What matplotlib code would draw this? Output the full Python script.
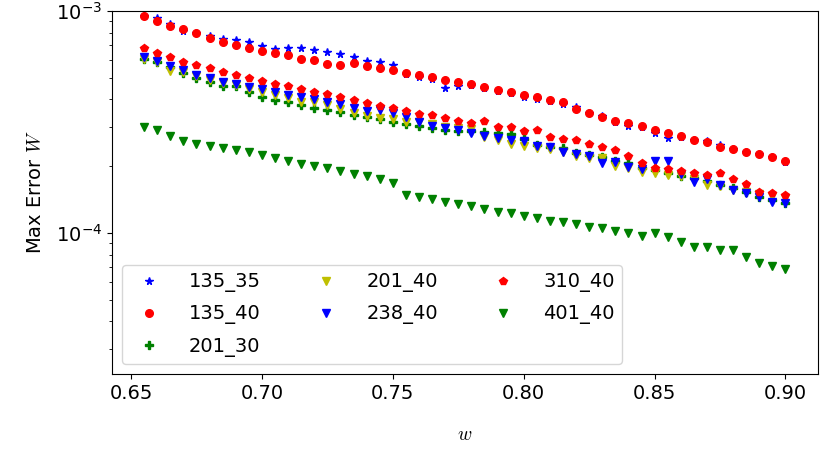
#imports required libraries
import numpy as np
import matplotlib
matplotlib.use("Agg")
import matplotlib.pyplot as plt

#w values (x axis)
w=[0.655,0.660,0.665,0.670,0.675,0.680,0.685,0.690,0.695,0.700,
   0.705,0.710,0.715,0.720,0.725,0.730,0.735,0.740,0.745,0.750,
   0.755,0.760,0.765,0.770,0.775,0.780,0.785,0.790,0.795,0.800,
   0.805,0.810,0.815,0.820,0.825,0.830,0.835,0.840,0.845,0.850,
   0.855,0.860,0.865,0.870,0.875,0.880,0.885,0.890,0.895,0.900]

#max error for each run, in units of 1e-4
e135_35=[9.45,9.27,8.71,8.13,8.00,7.72,7.46,7.40,7.27,6.98,
         6.76,6.80,6.84,6.67,6.56,6.40,6.23,5.95,5.87,5.71,
         5.20,5.07,4.92,4.51,4.61,4.62,4.52,4.36,4.27,4.12,
         4.03,3.92,3.80,3.68,3.49,3.37,3.15,3.02,3.00,2.82,
         2.69,2.70,2.62,2.59,2.48,2.38,2.33,2.26,2.19,2.10]
e135_40=[9.50,9.04,8.59,8.30,7.94,7.53,7.25,7.03,6.81,6.63,
         6.49,6.32,6.11,6.04,5.79,5.69,5.85,5.67,5.54,5.41,
         5.27,5.15,5.03,4.90,4.80,4.68,4.56,4.42,4.32,4.20,
         4.09,3.97,3.88,3.63,3.46,3.34,3.20,3.13,3.03,2.91,
         2.81,2.73,2.63,2.56,2.45,2.38,2.33,2.26,2.20,2.11]
e201_30=[6.08,5.89,5.60,5.24,5.01,4.77,4.60,4.58,4.30,4.11,
         3.97,3.90,3.79,3.65,3.58,3.50,3.40,3.32,3.25,3.17,
         3.10,3.03,2.97,2.91,2.88,2.88,2.86,2.82,2.79,2.65,
         2.49,2.44,2.42,2.29,2.25,2.20,2.11,2.07,1.96,1.92,
         1.86,1.81,1.77,1.72,1.65,1.60,1.53,1.46,1.41,1.37]
e201_40=[6.11,5.89,5.37,5.31,5.10,4.89,4.74,4.64,4.45,4.32,
         4.19,4.06,3.90,3.89,3.77,3.62,3.47,3.37,3.31,3.26,
         3.17,3.15,3.10,3.00,2.97,2.93,2.71,2.62,2.52,2.47,
         2.42,2.39,2.32,2.22,2.18,2.18,2.00,1.96,1.88,1.86,
         1.83,1.81,1.75,1.65,1.63,1.56,1.53,1.50,1.47,1.44]
e238_40=[6.19,5.95,5.65,5.42,5.15,4.98,4.80,4.71,4.56,4.44,
         4.33,4.19,4.10,4.00,3.90,3.81,3.67,3.55,3.58,3.46,
         3.32,3.17,3.04,2.96,2.91,2.81,2.74,2.67,2.62,2.60,
         2.47,2.43,2.33,2.26,2.22,2.06,2.10,1.99,1.95,2.11,
         2.11,1.85,1.69,1.76,1.64,1.56,1.52,1.46,1.38,1.36]
e310_40=[6.79,6.45,6.19,5.91,5.71,5.52,5.31,5.15,4.99,4.84,
         4.71,4.59,4.46,4.32,4.22,4.10,3.97,3.86,3.73,3.65,
         3.55,3.45,3.40,3.30,3.21,3.14,3.21,3.01,2.99,2.87,
         2.90,2.70,2.64,2.62,2.52,2.43,2.37,2.22,2.07,1.97,
         1.94,1.91,1.87,1.83,1.86,1.75,1.66,1.53,1.52,1.49]
e401_40=[3.00,2.90,2.73,2.61,2.51,2.47,2.42,2.36,2.31,2.25,
         2.18,2.12,2.05,2.00,1.96,1.90,1.85,1.81,1.75,1.68,
         1.49,1.45,1.42,1.38,1.35,1.32,1.28,1.25,1.23,1.20,
         1.17,1.13,1.12,1.10,1.06,1.057,1.02,1.00,0.970,0.997,
         0.957,0.911,0.868,0.868,0.839,0.839,0.778,0.735,0.710,0.691]

#label, marker format and data for each run (plotted in this order)
runs=[("135_35","b*",e135_35),
      ("135_40","ro",e135_40),
      ("201_30","gP",e201_30),
      ("201_40","yv",e201_40),
      ("238_40","bv",e238_40),
      ("310_40","rp",e310_40),
      ("401_40","gv",e401_40)]

plt.rcParams['font.size']=14
plt.rcParams['mathtext.fontset']='cm'

#creates a matplotlib figure
fig=plt.figure(figsize=(8.3,4.49),dpi=100)
ax=fig.add_axes([0.135,0.167,0.850,0.8085])

for label,fmt,err in runs:
    ax.plot(w,np.array(err)*1e-4,fmt,label=label,markersize=5.5)

ax.set_yscale('log')
ax.set_ylim(2.32e-5,1e-3)
ax.set_xticks([0.65,0.70,0.75,0.80,0.85,0.90])

#adds label to the axes
ax.set_xlabel('$w$',labelpad=16)
ax.set_ylabel('Max Error $W$',labelpad=8)

ax.legend(loc='lower left',ncol=3,handletextpad=1.06,columnspacing=2.35,labelspacing=0.62)

fig.savefig('out.png',dpi=100)
